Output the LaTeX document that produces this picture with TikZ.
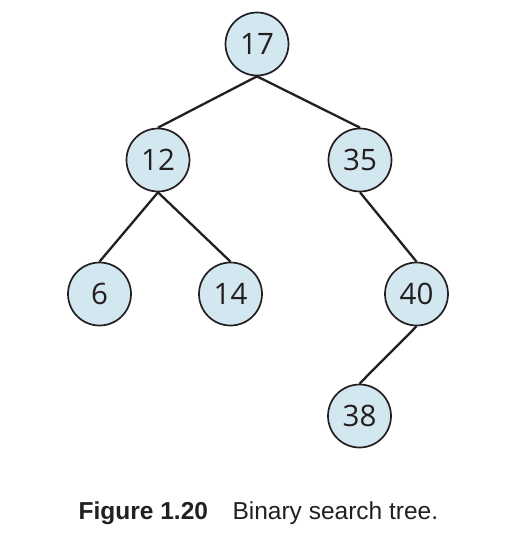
\documentclass[tikz,border=0pt]{standalone}
\usepackage{fontspec}
\setmainfont{Liberation Sans}
\newfontfamily\keyfont{Open Sans}
\definecolor{nodefill}{HTML}{D2E7F0}
\definecolor{ink}{HTML}{231F20}
\begin{document}
\begin{tikzpicture}[x=1pt,y=-1pt,
  keynode/.style={circle, draw=ink, line width=1.7pt, fill=nodefill,
    minimum size=63pt, inner sep=0pt, font=\keyfont\fontsize{29.5}{31}\selectfont, text=ink},
  treeedge/.style={draw=ink, line width=2.3pt}]
\useasboundingbox (0,0) rectangle (504,536);
% nodes of the tree
\node[keynode] (n17) at (257,44) {17};
\node[keynode] (n12) at (158,160) {12};
\node[keynode] (n35) at (360,160) {35};
\node[keynode] (n6)  at (99.5,294) {6};
\node[keynode] (n14) at (230.5,294) {14};
\node[keynode] (n40) at (416.5,294) {40};
\node[keynode] (n38) at (359.5,416) {38};
% parent-child links, from the bottom of a parent to the top of its child
\draw[treeedge] (n17.south) -- (n12.north);
\draw[treeedge] (n17.south) -- (n35.north);
\draw[treeedge] (n12.south) -- (n6.north);
\draw[treeedge] (n12.south) -- (n14.north);
\draw[treeedge] (n35.south) -- (n40.north);
\draw[treeedge] (n40.south) -- (n38.north);
% caption
\node[anchor=base west, inner sep=0pt, font=\fontsize{24.5}{26}\selectfont, text=ink] (cap) at (78.5,519.5)
  {\textbf{Figure 1.20}\hspace{24.5pt}Binary search tree.};
\end{tikzpicture}
\end{document}
